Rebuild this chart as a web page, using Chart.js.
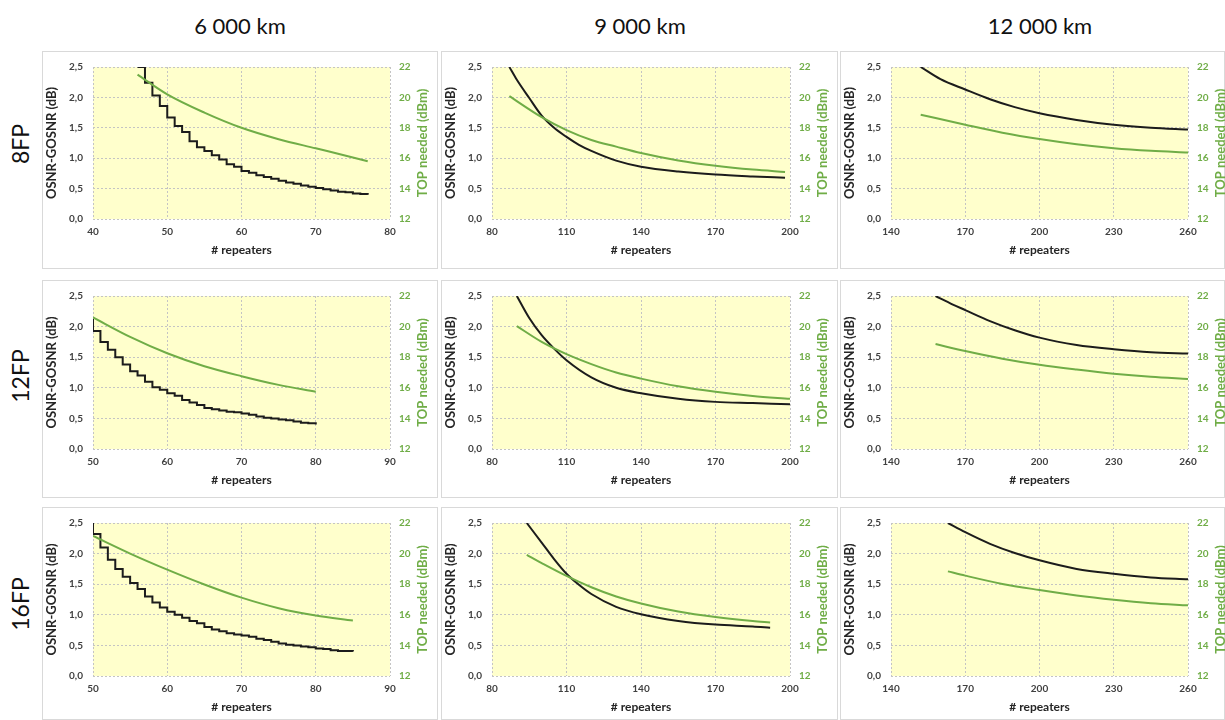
<!DOCTYPE html>
<html>
<head>
<meta charset="utf-8">
<script src="https://cdn.jsdelivr.net/npm/chart.js@4.4.1/dist/chart.umd.min.js"></script>
<style>
  html, body { margin: 0; padding: 0; background: #fff; }
  body { width: 1225px; height: 720px; position: relative; overflow: hidden; font-family: Lato, "Open Sans", sans-serif; }
  .hdr { position: absolute; top: 25px; transform: translate(-50%, -50%); font-size: 22px; color: #111; white-space: nowrap; }
  .row { position: absolute; left: 20px; transform: translate(-50%, -50%) rotate(-90deg); font-size: 23px; color: #111; white-space: nowrap; }
  canvas { position: absolute; }
</style>
</head>
<body>
<div class="hdr" style="left:240px">6 000 km</div>
<div class="hdr" style="left:640px">9 000 km</div>
<div class="hdr" style="left:1040px">12 000 km</div>
<div class="row" style="top:144px">8FP</div>
<div class="row" style="top:376px">12FP</div>
<div class="row" style="top:604px">16FP</div>

<script>
// ---------------------------------------------------------------
// data
// osnr = OSNR-GOSNR (dB, left axis), top = TOP needed (dBm, right axis)
// ---------------------------------------------------------------

// 8FP
const osnr_8fp_6000_x = [46,47,48,49,50,51,52,53,54,55,56,57,58,59,60,61,62,63,64,65,66,67,68,69,70,71,72,73,74,75,76,77];
const osnr_8fp_6000_y = [2.50,2.24,2.03,1.86,1.67,1.53,1.43,1.28,1.18,1.12,1.05,0.98,0.90,0.86,0.79,0.76,0.72,0.69,0.66,0.63,0.60,0.58,0.55,0.53,0.51,0.49,0.47,0.45,0.44,0.42,0.41,0.40];
const top_8fp_6000_x = [46, 50, 55, 60, 65, 70, 75, 77];
const top_8fp_6000_y = [21.5, 20.2, 19.0, 18.0, 17.25, 16.65, 16.05, 15.8];

const osnr_8fp_9000_x = [87, 90, 95, 100, 105, 110, 115, 120, 130, 140, 155, 170, 185, 198];
const osnr_8fp_9000_y = [2.50, 2.29, 1.99, 1.70, 1.50, 1.35, 1.22, 1.12, 0.96, 0.86, 0.78, 0.73, 0.70, 0.68];
const top_8fp_9000_x = [87, 100, 110, 120, 130, 140, 155, 170, 185, 198];
const top_8fp_9000_y = [20.08, 18.7, 17.85, 17.2, 16.76, 16.34, 15.85, 15.5, 15.25, 15.1];

const osnr_8fp_12000_x = [152, 160, 170, 180, 190, 200, 215, 230, 245, 260];
const osnr_8fp_12000_y = [2.50, 2.30, 2.13, 1.97, 1.84, 1.74, 1.63, 1.55, 1.50, 1.47];
const top_8fp_12000_x = [152, 170, 185, 200, 215, 230, 245, 260];
const top_8fp_12000_y = [18.86, 18.2, 17.68, 17.26, 16.92, 16.66, 16.49, 16.38];

// 12FP
const osnr_12fp_6000_x = [50,50,51,52,53,54,55,56,57,58,59,60,61,62,63,64,65,66,67,68,69,70,71,72,73,74,75,76,77,78,79,80];
const osnr_12fp_6000_y = [2.13,1.93,1.75,1.62,1.50,1.38,1.27,1.20,1.10,1.01,0.97,0.91,0.87,0.80,0.76,0.72,0.67,0.65,0.63,0.61,0.60,0.58,0.56,0.53,0.51,0.50,0.48,0.47,0.45,0.43,0.42,0.40];
const top_12fp_6000_x = [50, 55, 60, 65, 70, 75, 80];
const top_12fp_6000_y = [20.6, 19.33, 18.26, 17.41, 16.76, 16.19, 15.74];

const osnr_12fp_9000_x = [90, 95, 100, 105, 110, 120, 130, 140, 155, 170, 185, 200];
const osnr_12fp_9000_y = [2.50, 2.14, 1.86, 1.64, 1.45, 1.17, 1.00, 0.91, 0.82, 0.77, 0.75, 0.73];
const top_12fp_9000_x = [90, 100, 110, 120, 130, 140, 155, 170, 185, 200];
const top_12fp_9000_y = [20.03, 19.0, 18.2, 17.55, 17.0, 16.6, 16.1, 15.74, 15.47, 15.28];

const osnr_12fp_12000_x = [158, 165, 170, 180, 190, 200, 215, 230, 245, 260];
const osnr_12fp_12000_y = [2.50, 2.36, 2.27, 2.09, 1.94, 1.82, 1.70, 1.63, 1.58, 1.56];
const top_12fp_12000_x = [158, 170, 185, 200, 215, 230, 245, 260];
const top_12fp_12000_y = [18.86, 18.4, 17.9, 17.5, 17.19, 16.92, 16.72, 16.58];

// 16FP
const osnr_16fp_6000_x = [50,50,51,52,53,54,55,56,57,58,59,60,61,62,63,64,65,66,67,68,69,70,71,72,73,74,75,76,77,78,79,80,81,82,83,84,85];
const osnr_16fp_6000_y = [2.50,2.32,2.10,1.90,1.75,1.62,1.52,1.42,1.30,1.20,1.12,1.05,1.00,0.95,0.90,0.86,0.80,0.76,0.73,0.70,0.68,0.66,0.64,0.61,0.59,0.56,0.53,0.51,0.50,0.48,0.47,0.45,0.44,0.42,0.41,0.41,0.40];
const top_16fp_6000_x = [50, 55, 60, 65, 70, 75, 80, 85];
const top_16fp_6000_y = [21.15, 20.0, 18.95, 17.98, 17.12, 16.43, 15.95, 15.63];

const osnr_16fp_9000_x = [94, 100, 105, 110, 115, 120, 130, 140, 155, 170, 185, 192];
const osnr_16fp_9000_y = [2.50, 2.18, 1.91, 1.67, 1.49, 1.34, 1.13, 1.01, 0.90, 0.84, 0.81, 0.79];
const top_16fp_9000_x = [94, 100, 110, 120, 130, 140, 155, 170, 185, 192];
const top_16fp_9000_y = [19.91, 19.38, 18.54, 17.8, 17.2, 16.74, 16.21, 15.85, 15.59, 15.5];

const osnr_16fp_12000_x = [163, 170, 180, 190, 200, 215, 230, 245, 260];
const osnr_16fp_12000_y = [2.50, 2.35, 2.16, 2.01, 1.89, 1.75, 1.67, 1.61, 1.58];
const top_16fp_12000_x = [163, 170, 185, 200, 215, 230, 245, 260];
const top_16fp_12000_y = [18.84, 18.56, 18.02, 17.62, 17.26, 16.98, 16.76, 16.62];

// x axis ranges per panel [min, max, step]
const xRange_6000_8fp = [40, 80, 10];
const xRange_6000 = [50, 90, 10];
const xRange_9000 = [80, 200, 30];
const xRange_12000 = [140, 260, 30];

const osnrTicks = [0, 2.5, 0.5];
const topTicks = [12, 22, 2];

// ---------------------------------------------------------------
// layout
// ---------------------------------------------------------------
const COLS = [
  { left: 42,  width: 396, leftW: 51, rightW: 48 },
  { left: 441, width: 397, leftW: 51, rightW: 48 },
  { left: 840, width: 385, leftW: 51, rightW: 37 },
];
const ROWS = [
  { top: 51,  height: 218, padTop: 12 },
  { top: 280, height: 218, padTop: 13 },
  { top: 507, height: 213, padTop: 13 },
];
const PLOT_H = 156;

const BLACK = '#1c1c1c';
const GREEN = '#70ad47';
const GRID = '#c4c4c4';
const FONT = 'Lato, "Open Sans", sans-serif';

Chart.defaults.font.family = FONT;

function pts(xs, ys) {
  return xs.map((x, i) => ({ x, y: ys[i] }));
}

const panelPlugin = {
  id: 'panelDeco',
  beforeDraw(chart) {
    const { ctx, chartArea: a } = chart;
    ctx.save();
    ctx.fillStyle = '#ffffcc';
    ctx.fillRect(a.left, a.top, a.right - a.left, a.bottom - a.top);
    ctx.strokeStyle = '#d9d9d9';
    ctx.lineWidth = 1;
    ctx.strokeRect(0.5, 0.5, chart.width - 1, chart.height - 1);
    ctx.restore();
  },
  afterDraw(chart) {
    // right axis title, reads bottom-to-top like the left one
    const { ctx, chartArea: a } = chart;
    ctx.save();
    ctx.translate(a.right + 33, (a.top + a.bottom) / 2);
    ctx.rotate(-Math.PI / 2);
    ctx.font = 'bold 13px ' + FONT;
    ctx.fillStyle = GREEN;
    ctx.textAlign = 'center';
    ctx.textBaseline = 'middle';
    ctx.fillText('TOP needed (dBm)', 0, 0);
    ctx.restore();
  }
};

function makePanel(r, c, osnrX, osnrY, topX, topY, xr, stepped) {
  const col = COLS[c];
  const row = ROWS[r];
  const xh = row.height - row.padTop - PLOT_H;

  const cv = document.createElement('canvas');
  cv.width = col.width;
  cv.height = row.height;
  cv.style.left = col.left + 'px';
  cv.style.top = row.top + 'px';
  cv.style.width = col.width + 'px';
  cv.style.height = row.height + 'px';
  document.body.appendChild(cv);

  return new Chart(cv.getContext('2d'), {
    type: 'line',
    data: {
      datasets: [
        {
          label: 'OSNR-GOSNR',
          data: pts(osnrX, osnrY),
          yAxisID: 'y',
          borderColor: BLACK,
          borderWidth: 2,
          pointRadius: 0,
          stepped: stepped ? 'before' : false,
          tension: 0,
          cubicInterpolationMode: stepped ? 'default' : 'monotone',
          order: 2,
        },
        {
          label: 'TOP needed',
          data: pts(topX, topY),
          yAxisID: 'y1',
          borderColor: GREEN,
          borderWidth: 2,
          pointRadius: 0,
          cubicInterpolationMode: 'monotone',
          order: 1,
        }
      ]
    },
    options: {
      responsive: false,
      animation: false,
      devicePixelRatio: 1,
      layout: { padding: { top: row.padTop, left: 0, right: 0, bottom: 0 } },
      plugins: { legend: { display: false }, tooltip: { enabled: false } },
      scales: {
        x: {
          type: 'linear',
          min: xr[0], max: xr[1],
          afterFit: (s) => { s.height = xh; },
          ticks: { stepSize: xr[2], padding: 7, color: '#404040', font: { size: 10, weight: 'bold' } },
          grid: { color: GRID, drawTicks: false },
          border: { display: false, dash: [2, 2] },
          title: {
            display: true, text: '# repeaters', color: '#262626',
            font: { size: 12, weight: 'bold' },
            padding: { top: 0, bottom: xh - 31 - 7.2 }
          }
        },
        y: {
          position: 'left',
          min: osnrTicks[0], max: osnrTicks[1],
          afterFit: (s) => { s.width = col.leftW; },
          ticks: {
            stepSize: osnrTicks[2], padding: 10, color: '#404040',
            font: { size: 10, weight: 'bold' },
            callback: (v) => Number(v).toFixed(1).replace('.', ',')
          },
          grid: { color: GRID, drawTicks: false },
          border: { display: false, dash: [2, 2] },
          title: {
            display: true, text: 'OSNR-GOSNR (dB)', color: '#262626',
            font: { size: 13, weight: 'bold' },
            padding: { top: 2, bottom: 0 }
          }
        },
        y1: {
          position: 'right',
          min: topTicks[0], max: topTicks[1],
          afterFit: (s) => { s.width = col.rightW; },
          ticks: { stepSize: topTicks[2], padding: 9, color: GREEN, font: { size: 10, weight: 'bold' } },
          grid: { display: false, drawTicks: false },
          border: { display: false }
        }
      }
    },
    plugins: [panelPlugin]
  });
}

makePanel(0, 0, osnr_8fp_6000_x, osnr_8fp_6000_y, top_8fp_6000_x, top_8fp_6000_y, xRange_6000_8fp, true);
makePanel(0, 1, osnr_8fp_9000_x, osnr_8fp_9000_y, top_8fp_9000_x, top_8fp_9000_y, xRange_9000, false);
makePanel(0, 2, osnr_8fp_12000_x, osnr_8fp_12000_y, top_8fp_12000_x, top_8fp_12000_y, xRange_12000, false);

makePanel(1, 0, osnr_12fp_6000_x, osnr_12fp_6000_y, top_12fp_6000_x, top_12fp_6000_y, xRange_6000, true);
makePanel(1, 1, osnr_12fp_9000_x, osnr_12fp_9000_y, top_12fp_9000_x, top_12fp_9000_y, xRange_9000, false);
makePanel(1, 2, osnr_12fp_12000_x, osnr_12fp_12000_y, top_12fp_12000_x, top_12fp_12000_y, xRange_12000, false);

makePanel(2, 0, osnr_16fp_6000_x, osnr_16fp_6000_y, top_16fp_6000_x, top_16fp_6000_y, xRange_6000, true);
makePanel(2, 1, osnr_16fp_9000_x, osnr_16fp_9000_y, top_16fp_9000_x, top_16fp_9000_y, xRange_9000, false);
makePanel(2, 2, osnr_16fp_12000_x, osnr_16fp_12000_y, top_16fp_12000_x, top_16fp_12000_y, xRange_12000, false);
</script>
</body>
</html>
